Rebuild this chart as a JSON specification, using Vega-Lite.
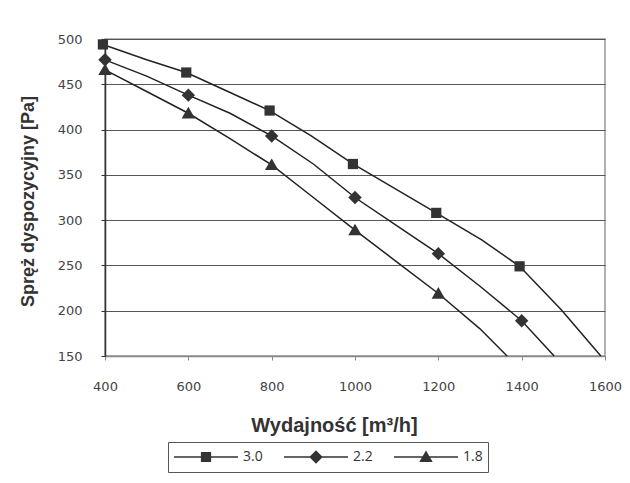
{
  "$schema": "https://vega.github.io/schema/vega-lite/v6.json",
  "width": 500,
  "height": 317,
  "autosize": "none",
  "padding": {"left": 105, "top": 39, "right": 25, "bottom": 127},
  "background": "white",
  "config": {
    "view": {"stroke": "#999", "strokeWidth": 1.5},
    "axis": {"labelFont": "DejaVu Sans", "labelFontSize": 13, "labelColor": "#444", "titleFont": "Liberation Sans", "titleFontWeight": "bold", "titleColor": "#333"}
  },
  "datasets": {
    "curve": [
      {"flow": 395, "pressure": 494, "series": "3.0"},
      {"flow": 500, "pressure": 477, "series": "3.0"},
      {"flow": 595, "pressure": 463, "series": "3.0"},
      {"flow": 695, "pressure": 442, "series": "3.0"},
      {"flow": 795, "pressure": 421, "series": "3.0"},
      {"flow": 895, "pressure": 393, "series": "3.0"},
      {"flow": 995, "pressure": 362, "series": "3.0"},
      {"flow": 1095, "pressure": 335, "series": "3.0"},
      {"flow": 1195, "pressure": 308, "series": "3.0"},
      {"flow": 1305, "pressure": 278, "series": "3.0"},
      {"flow": 1395, "pressure": 249, "series": "3.0"},
      {"flow": 1495, "pressure": 201, "series": "3.0"},
      {"flow": 1590, "pressure": 150, "series": "3.0"},
      {"flow": 400, "pressure": 477, "series": "2.2"},
      {"flow": 500, "pressure": 459, "series": "2.2"},
      {"flow": 600, "pressure": 438, "series": "2.2"},
      {"flow": 700, "pressure": 418, "series": "2.2"},
      {"flow": 800, "pressure": 393, "series": "2.2"},
      {"flow": 900, "pressure": 362, "series": "2.2"},
      {"flow": 1000, "pressure": 325, "series": "2.2"},
      {"flow": 1100, "pressure": 294, "series": "2.2"},
      {"flow": 1200, "pressure": 263, "series": "2.2"},
      {"flow": 1300, "pressure": 227, "series": "2.2"},
      {"flow": 1400, "pressure": 189, "series": "2.2"},
      {"flow": 1478, "pressure": 150, "series": "2.2"},
      {"flow": 400, "pressure": 466, "series": "1.8"},
      {"flow": 500, "pressure": 442, "series": "1.8"},
      {"flow": 600, "pressure": 418, "series": "1.8"},
      {"flow": 700, "pressure": 390, "series": "1.8"},
      {"flow": 800, "pressure": 361, "series": "1.8"},
      {"flow": 900, "pressure": 325, "series": "1.8"},
      {"flow": 1000, "pressure": 289, "series": "1.8"},
      {"flow": 1100, "pressure": 254, "series": "1.8"},
      {"flow": 1200, "pressure": 219, "series": "1.8"},
      {"flow": 1300, "pressure": 180, "series": "1.8"},
      {"flow": 1365, "pressure": 150, "series": "1.8"}
    ],
    "markers": [
      {"flow": 395, "pressure": 494, "series": "3.0"},
      {"flow": 595, "pressure": 463, "series": "3.0"},
      {"flow": 795, "pressure": 421, "series": "3.0"},
      {"flow": 995, "pressure": 362, "series": "3.0"},
      {"flow": 1195, "pressure": 308, "series": "3.0"},
      {"flow": 1395, "pressure": 249, "series": "3.0"},
      {"flow": 400, "pressure": 477, "series": "2.2"},
      {"flow": 600, "pressure": 438, "series": "2.2"},
      {"flow": 800, "pressure": 393, "series": "2.2"},
      {"flow": 1000, "pressure": 325, "series": "2.2"},
      {"flow": 1200, "pressure": 263, "series": "2.2"},
      {"flow": 1400, "pressure": 189, "series": "2.2"},
      {"flow": 400, "pressure": 466, "series": "1.8"},
      {"flow": 600, "pressure": 418, "series": "1.8"},
      {"flow": 800, "pressure": 361, "series": "1.8"},
      {"flow": 1000, "pressure": 289, "series": "1.8"},
      {"flow": 1200, "pressure": 219, "series": "1.8"}
    ]
  },
  "resolve": {"scale": {"shape": "independent"}, "legend": {"shape": "independent"}},
  "layer": [
    {
      "data": {"name": "curve"},
      "mark": {"type": "line", "color": "#222", "strokeWidth": 1.5},
      "encoding": {
        "x": {
          "field": "flow", "type": "quantitative",
          "scale": {"domain": [400, 1600], "nice": false, "zero": false},
          "axis": {
            "values": [400, 600, 800, 1000, 1200, 1400, 1600], "format": "d", "labelFlush": false,
            "grid": false, "tickSize": 4, "tickColor": "#888", "domainColor": "#888", "domainWidth": 1.5,
            "labelPadding": 20, "title": "Wydajność [m³/h]", "titleFontSize": 20, "titlePadding": 22, "titleX": 229
          }
        },
        "y": {
          "field": "pressure", "type": "quantitative",
          "scale": {"domain": [150, 500], "nice": false, "zero": false},
          "axis": {
            "values": [150, 200, 250, 300, 350, 400, 450, 500],
            "grid": true, "gridColor": "#555", "gridWidth": 1, "tickSize": 4, "tickColor": "#333",
            "domainColor": "#333", "domainWidth": 1.5, "labelPadding": 19,
            "title": "Spręż dyspozycyjny [Pa]", "titleFontSize": 18, "titleX": -68, "titleY": 162
          }
        },
        "detail": {"field": "series"}
      }
    },
    {
      "data": {"name": "markers"},
      "mark": {"type": "point", "filled": true, "color": "#333", "size": 4096, "opacity": 1},
      "encoding": {
        "x": {"field": "flow", "type": "quantitative"},
        "y": {"field": "pressure", "type": "quantitative"},
        "shape": {
          "field": "series", "type": "nominal",
          "scale": {
            "domain": ["3.0", "2.2", "1.8"],
            "range": ["M-0.16,-0.16H0.16V0.16H-0.16Z", "M0,-0.21L0.21,0L0,0.21L-0.21,0Z", "M0,-0.2L0.21,0.16L-0.21,0.16Z"]
          },
          "legend": null
        }
      }
    },
    {
      "data": {"name": "markers"},
      "transform": [{"filter": "datum.flow < 0"}],
      "mark": {"type": "point", "filled": true, "color": "#333", "size": 4096, "opacity": 1},
      "encoding": {
        "x": {"field": "flow", "type": "quantitative"},
        "y": {"field": "pressure", "type": "quantitative"},
        "shape": {
          "field": "series", "type": "nominal",
          "scale": {
            "domain": ["3.0", "2.2", "1.8"],
            "range": ["M-1,-0.023H1V0.023H-1ZM-0.16,-0.16H0.16V0.16H-0.16Z", "M-1,-0.023H1V0.023H-1ZM0,-0.21L0.21,0L0,0.21L-0.21,0Z", "M-1,-0.023H1V0.023H-1ZM0,-0.2L0.21,0.16L-0.21,0.16Z"]
          },
          "legend": {
            "orient": "none", "legendX": 63, "legendY": 403, "direction": "horizontal",
            "title": null, "strokeColor": "#555", "fillColor": "white", "padding": 5,
            "symbolSize": 4096, "clipHeight": 20, "columnPadding": 20, "labelOffset": 4,
            "labelFont": "Open Sans", "labelFontSize": 14, "labelColor": "#333",
            "symbolFillColor": "#333", "symbolOpacity": 1
          }
        }
      }
    }
  ]
}
